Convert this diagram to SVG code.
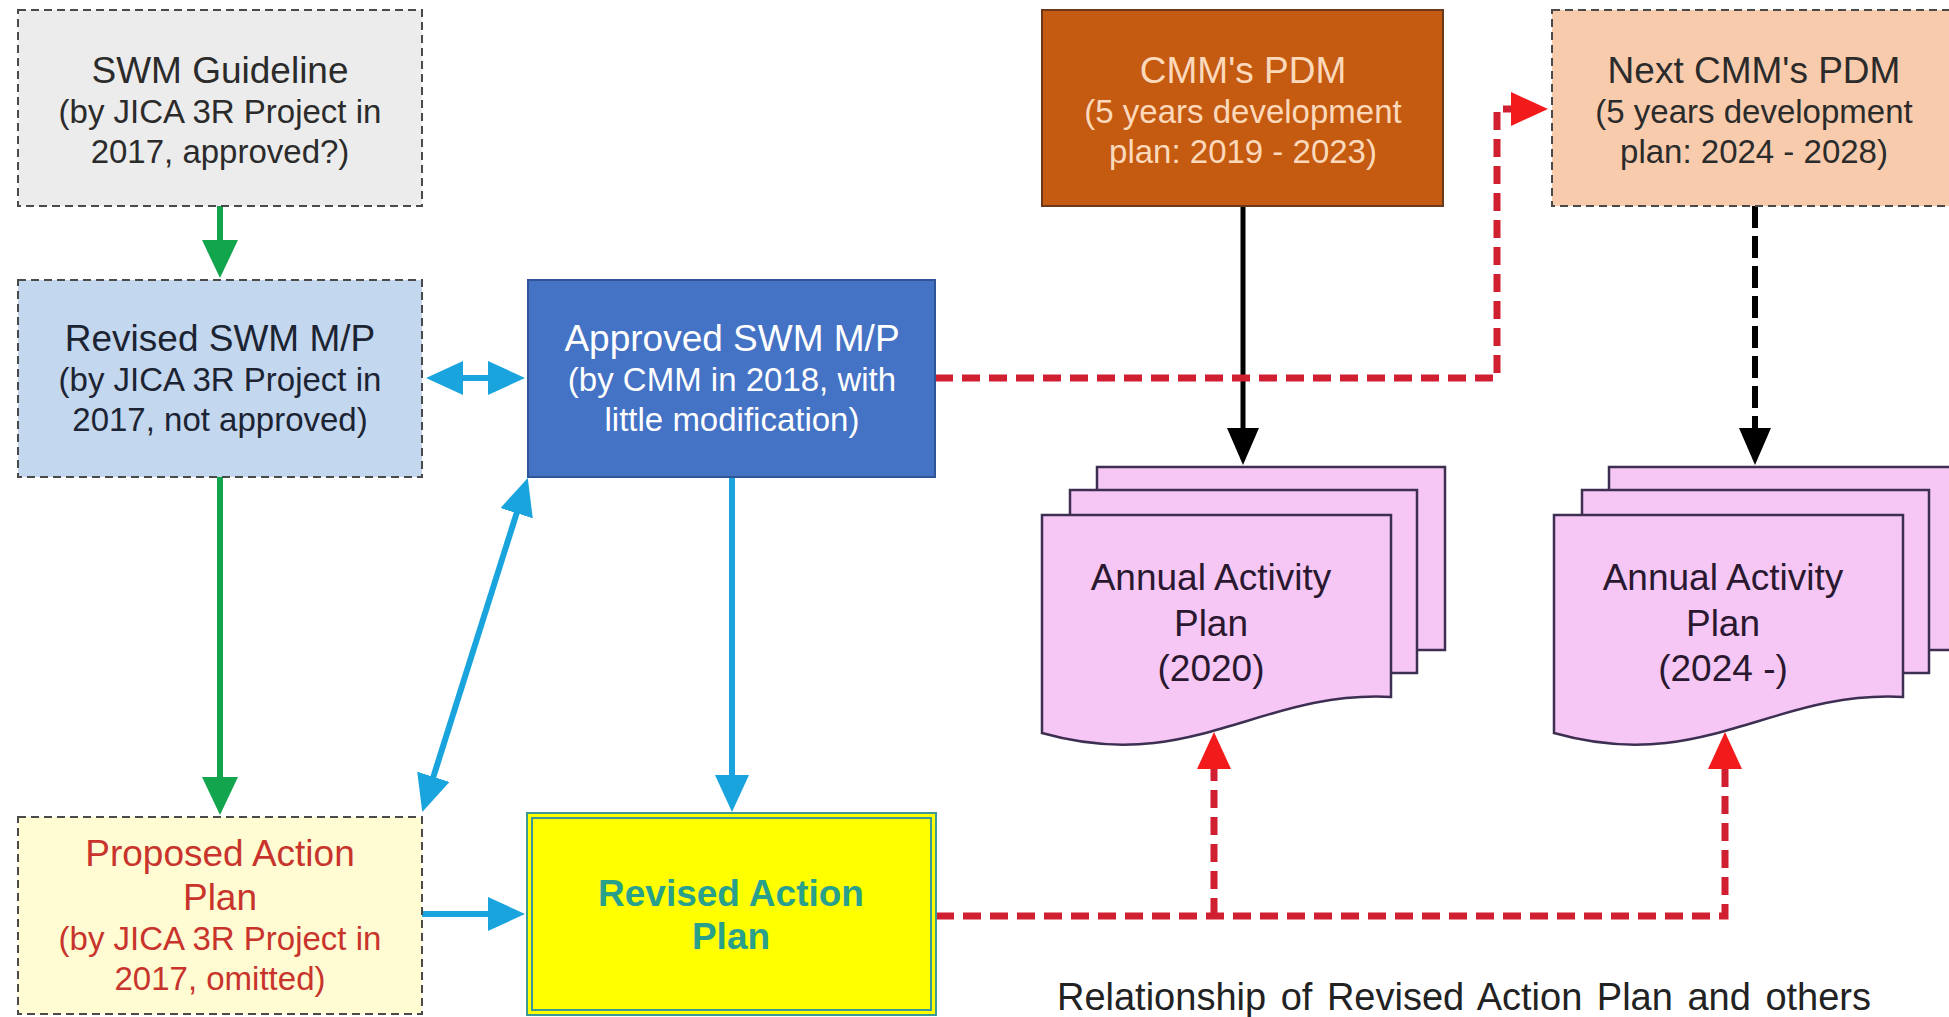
<svg xmlns="http://www.w3.org/2000/svg" width="1949" height="1017" viewBox="0 0 1949 1017">
  <style>
    text { font-family: "Liberation Sans", Arial, sans-serif; text-anchor: middle; }
    .t { font-size: 37px; }
    .s { font-size: 33px; }
    .dashbox { stroke: #4a4a4a; stroke-width: 2; stroke-dasharray: 8 5; }
    .doc { fill: #f6c7f4; stroke: #3d2f52; stroke-width: 2.5; }
    .green { fill: none; stroke: #13a54e; stroke-width: 6; }
    .blue { fill: none; stroke: #19a4de; stroke-width: 6; }
    .black { fill: none; stroke: #000; stroke-width: 5; }
    .blackdash { fill: none; stroke: #000; stroke-width: 6; stroke-dasharray: 22 8; }
    .red { fill: none; stroke: #cf1f30; stroke-width: 7; stroke-dasharray: 18 9; }
  </style>
  <defs>
    <marker id="ahGreen" markerUnits="userSpaceOnUse" viewBox="0 0 38 36" markerWidth="38" markerHeight="36" refX="1" refY="18" orient="auto-start-reverse">
      <path d="M0,0 L38,18 L0,36 z" fill="#13a54e"/>
    </marker>
    <marker id="ahBlue" markerUnits="userSpaceOnUse" viewBox="0 0 37 34" markerWidth="37" markerHeight="34" refX="1" refY="17" orient="auto-start-reverse">
      <path d="M0,0 L37,17 L0,34 z" fill="#19a4de"/>
    </marker>
    <marker id="ahBlack" markerUnits="userSpaceOnUse" viewBox="0 0 37 32" markerWidth="37" markerHeight="32" refX="1" refY="16" orient="auto-start-reverse">
      <path d="M0,0 L37,16 L0,32 z" fill="#000"/>
    </marker>
    <marker id="ahRed" markerUnits="userSpaceOnUse" viewBox="0 0 37 34" markerWidth="37" markerHeight="34" refX="1" refY="17" orient="auto-start-reverse">
      <path d="M0,0 L37,17 L0,34 z" fill="#f21a1a"/>
    </marker>
    <!-- stacked "multi-document" shape used by the annual activity plans -->
    <g id="docStack">
      <rect class="doc" x="1097" y="467" width="348" height="183"/>
      <rect class="doc" x="1070" y="490" width="347" height="183"/>
      <path class="doc" d="M1042,515 H1391 V697 C1260,690 1190,775 1042,733 Z"/>
    </g>
  </defs>

  <rect x="0" y="0" width="1949" height="1017" fill="#fff"/>

  <!-- connectors -->
  <g id="connectors">
    <path class="green" d="M220,206 V241" marker-end="url(#ahGreen)"/>
    <path class="green" d="M220,477 V778" marker-end="url(#ahGreen)"/>
    <path class="blue" d="M462,378 H489" marker-start="url(#ahBlue)" marker-end="url(#ahBlue)"/>
    <path class="blue" d="M433.1,777.7 L516.9,512.3" marker-start="url(#ahBlue)" marker-end="url(#ahBlue)"/>
    <path class="blue" d="M732,477 V776" marker-end="url(#ahBlue)"/>
    <path class="blue" d="M422,914 H489" marker-end="url(#ahBlue)"/>
    <path class="black" d="M1243,206 V429" marker-end="url(#ahBlack)"/>
    <path class="blackdash" d="M1755,206 V429" marker-end="url(#ahBlack)"/>
    <path class="red" d="M935,378 H1497 V109 H1512" marker-end="url(#ahRed)"/>
    <path class="red" d="M936,916 H1725 V768" marker-end="url(#ahRed)"/>
    <path class="red" d="M1214,916 V768" marker-end="url(#ahRed)"/>
  </g>

  <g id="swm-guideline">
    <rect class="dashbox" x="18" y="10" width="404" height="196" fill="#ececec"/>
    <text class="t" x="220" y="83" fill="#2b2b2b">SWM Guideline</text>
    <text class="s" x="220" y="123" fill="#2b2b2b">(by JICA 3R Project in</text>
    <text class="s" x="220" y="163" fill="#2b2b2b">2017, approved?)</text>
  </g>

  <g id="revised-swm-mp">
    <rect class="dashbox" x="18" y="280" width="404" height="197" fill="#c3d7ee"/>
    <text class="t" x="220" y="351" fill="#1c2433">Revised SWM M/P</text>
    <text class="s" x="220" y="391" fill="#1c2433">(by JICA 3R Project in</text>
    <text class="s" x="220" y="431" fill="#1c2433">2017, not approved)</text>
  </g>

  <g id="approved-swm-mp">
    <rect x="528" y="280" width="407" height="197" fill="#4472c4" stroke="#2f5597" stroke-width="2"/>
    <text class="t" x="732" y="351" fill="#fff">Approved SWM M/P</text>
    <text class="s" x="732" y="391" fill="#fff">(by CMM in 2018, with</text>
    <text class="s" x="732" y="431" fill="#fff">little modification)</text>
  </g>

  <g id="cmm-pdm">
    <rect x="1042" y="10" width="401" height="196" fill="#c55a11" stroke="#6b3a1a" stroke-width="2"/>
    <text class="t" x="1243" y="83" fill="#fcd9bb">CMM's PDM</text>
    <text class="s" x="1243" y="123" fill="#fcd9bb">(5 years development</text>
    <text class="s" x="1243" y="163" fill="#fcd9bb">plan: 2019 - 2023)</text>
  </g>

  <g id="next-cmm-pdm">
    <rect class="dashbox" x="1552" y="10" width="404" height="196" fill="#f8cbad"/>
    <text class="t" x="1754" y="83" fill="#2b2b2b">Next CMM's PDM</text>
    <text class="s" x="1754" y="123" fill="#2b2b2b">(5 years development</text>
    <text class="s" x="1754" y="163" fill="#2b2b2b">plan: 2024 - 2028)</text>
  </g>

  <g id="annual-plan-2020">
    <use href="#docStack"/>
    <text class="t" x="1211" y="590" fill="#2a1830">Annual Activity</text>
    <text class="t" x="1211" y="636" fill="#2a1830">Plan</text>
    <text class="t" x="1211" y="681" fill="#2a1830">(2020)</text>
  </g>

  <g id="annual-plan-2024">
    <use href="#docStack" x="512"/>
    <text class="t" x="1723" y="590" fill="#2a1830">Annual Activity</text>
    <text class="t" x="1723" y="636" fill="#2a1830">Plan</text>
    <text class="t" x="1723" y="681" fill="#2a1830">(2024 -)</text>
  </g>

  <g id="proposed-action-plan">
    <rect class="dashbox" x="18" y="817" width="404" height="197" fill="#fffbd2"/>
    <text class="t" x="220" y="866" fill="#c8342c">Proposed Action</text>
    <text class="t" x="220" y="910" fill="#c8342c">Plan</text>
    <text class="s" x="220" y="950" fill="#c8342c">(by JICA 3R Project in</text>
    <text class="s" x="220" y="990" fill="#c8342c">2017, omitted)</text>
  </g>

  <g id="revised-action-plan">
    <rect x="527" y="813" width="409" height="202" fill="#ffff00" stroke="#3a9a96" stroke-width="2"/>
    <rect x="532" y="818" width="399" height="192" fill="none" stroke="#3a9a96" stroke-width="2"/>
    <text x="731" y="906" font-size="37" font-weight="bold" fill="#28a08c">Revised Action</text>
    <text x="731" y="949" font-size="37" font-weight="bold" fill="#28a08c">Plan</text>
  </g>

  <text x="1464" y="1010" font-size="38" word-spacing="4" fill="#222">Relationship of Revised Action Plan and others</text>
</svg>
